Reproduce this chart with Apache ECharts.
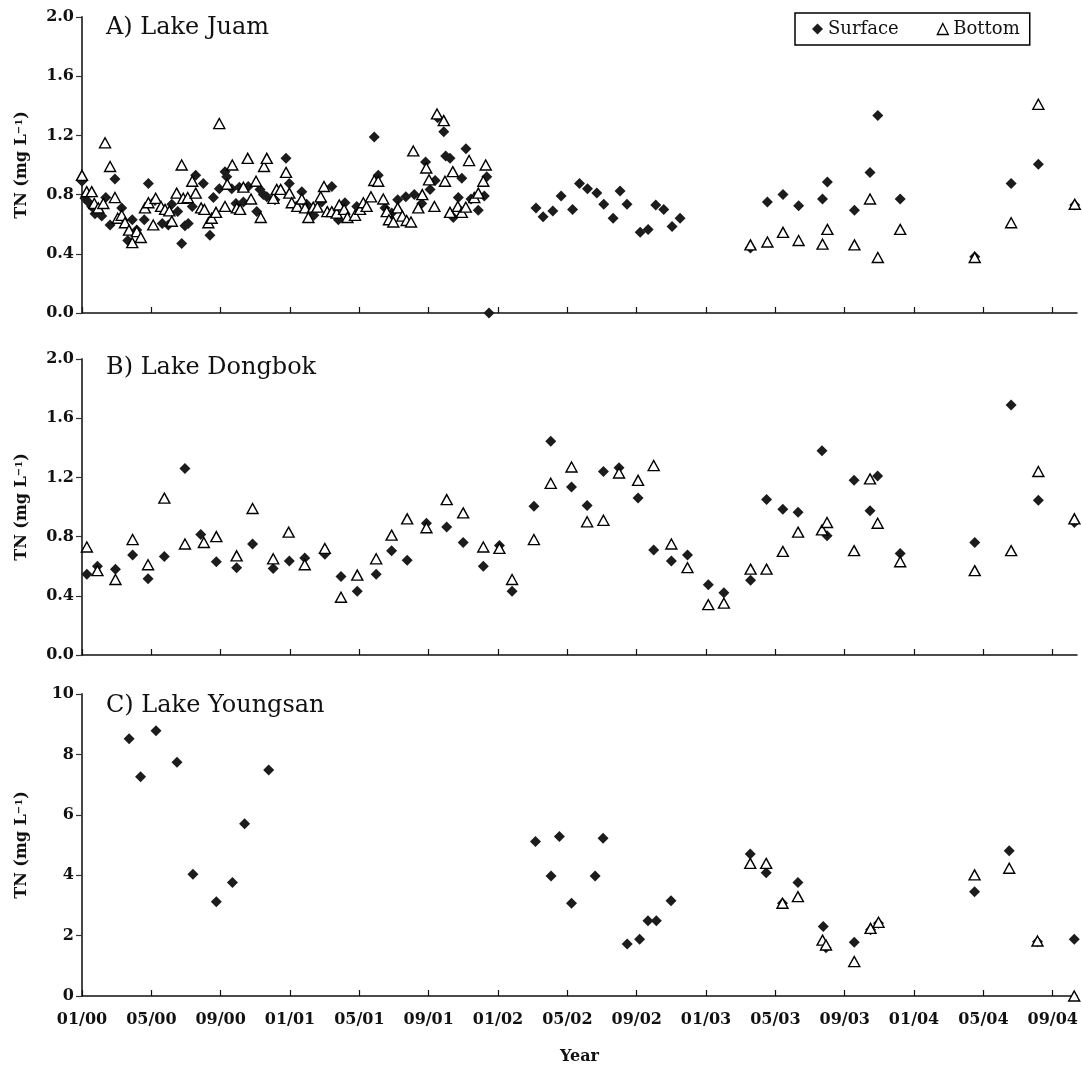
<!DOCTYPE html>
<html><head><meta charset="utf-8">
<script src="https://cdn.jsdelivr.net/npm/echarts@6/dist/echarts.min.js"></script>
<style>html,body{margin:0;padding:0;background:#fff}#c{width:1082px;height:1071px}</style>
</head><body><div id="c"></div>
<script>
// x values: months since 01/2000 (fractional)
const tickLabels = ['01/00','05/00','09/00','01/01','05/01','09/01','01/02','05/02','09/02','01/03','05/03','09/03','01/04','05/04','09/04'];
const panelTitles = ['A) Lake Juam','B) Lake Dongbok','C) Lake Youngsan'];
const seriesNames = ['Surface','Bottom'];

const juamSurface = [
[0.00,0.89],[0.17,0.775],[0.36,0.75],[0.56,0.72],[0.75,0.67],[1.14,0.655],[1.37,0.78],[1.62,0.595],[1.90,0.905],[2.29,0.71],[2.64,0.49],[2.90,0.63],[3.16,0.56],[3.59,0.63],[3.83,0.875],[4.21,0.76],[4.63,0.605],[4.98,0.595],[5.18,0.735],[5.52,0.685],[5.75,0.47],[5.94,0.59],[6.13,0.605],[6.36,0.72],[6.56,0.93],[7.00,0.875],[7.38,0.525],[7.58,0.78],[7.92,0.84],[8.25,0.955],[8.35,0.92],[8.64,0.84],[8.88,0.74],[9.08,0.85],[9.31,0.75],[9.59,0.855],[10.08,0.685],[10.27,0.835],[10.46,0.80],[10.66,0.785],[11.13,0.765],[11.77,1.045],[11.96,0.875],[12.35,0.72],[12.68,0.82],[12.96,0.735],[13.15,0.685],[13.38,0.66],[13.83,0.75],[14.41,0.855],[14.79,0.63],[15.17,0.745],[15.85,0.72],[16.86,1.19],[17.09,0.93],[17.48,0.71],[17.87,0.675],[18.21,0.765],[18.68,0.785],[19.17,0.80],[19.60,0.74],[19.82,1.02],[20.08,0.835],[20.37,0.895],[20.52,1.32],[20.87,1.225],[20.98,1.06],[21.23,1.045],[21.42,0.645],[21.71,0.78],[21.91,0.91],[22.15,1.11],[22.44,0.77],[22.86,0.695],[23.21,0.79],[23.35,0.92],[23.48,0.0],
[26.19,0.71],[26.60,0.65],[27.16,0.69],[27.64,0.79],[28.30,0.70],[28.70,0.875],[29.16,0.84],[29.70,0.81],[30.10,0.735],[30.64,0.64],[31.04,0.825],[31.44,0.735],[32.20,0.545],[32.66,0.565],[33.10,0.73],[33.56,0.70],[34.04,0.585],[34.50,0.64],
[38.56,0.44],[39.54,0.75],[40.44,0.80],[41.34,0.725],[42.72,0.77],[43.00,0.885],[44.56,0.695],[45.46,0.95],[45.91,1.335],[47.20,0.77],[51.50,0.38],[53.60,0.875],[55.17,1.005],[57.27,0.73]
];
const juamBottom = [
[0.00,0.93],[0.27,0.82],[0.56,0.82],[0.71,0.74],[0.94,0.71],[1.23,0.74],[1.33,1.15],[1.62,0.99],[1.90,0.78],[2.06,0.64],[2.29,0.66],[2.48,0.61],[2.71,0.56],[2.90,0.475],[3.16,0.55],[3.39,0.51],[3.63,0.71],[3.83,0.745],[4.11,0.595],[4.25,0.775],[4.56,0.72],[4.79,0.70],[5.04,0.69],[5.18,0.62],[5.46,0.81],[5.75,1.00],[5.84,0.775],[6.10,0.78],[6.36,0.89],[6.56,0.81],[6.87,0.71],[7.06,0.70],[7.29,0.61],[7.48,0.64],[7.73,0.68],[7.92,1.28],[8.25,0.72],[8.38,0.87],[8.67,1.00],[8.93,0.71],[9.12,0.70],[9.31,0.85],[9.56,1.045],[9.75,0.77],[10.04,0.89],[10.31,0.645],[10.50,0.99],[10.66,1.045],[11.04,0.775],[11.23,0.835],[11.46,0.835],[11.77,0.95],[11.96,0.81],[12.10,0.745],[12.42,0.72],[12.68,0.77],[12.87,0.71],[13.06,0.645],[13.34,0.715],[13.58,0.715],[13.77,0.785],[13.96,0.855],[14.15,0.685],[14.41,0.685],[14.69,0.675],[14.84,0.73],[15.12,0.70],[15.31,0.645],[15.75,0.66],[16.04,0.70],[16.23,0.745],[16.42,0.72],[16.67,0.785],[16.86,0.895],[17.09,0.89],[17.38,0.77],[17.58,0.685],[17.71,0.63],[17.96,0.615],[18.21,0.71],[18.48,0.655],[18.73,0.625],[18.98,0.615],[19.11,1.095],[19.40,0.71],[19.63,0.80],[19.86,0.98],[20.02,0.90],[20.33,0.72],[20.48,1.345],[20.87,1.30],[20.94,0.89],[21.23,0.68],[21.39,0.955],[21.68,0.72],[21.91,0.68],[22.14,0.715],[22.33,1.03],[22.63,0.78],[22.86,0.81],[23.15,0.89],[23.29,1.00],
[38.56,0.46],[39.54,0.48],[40.44,0.545],[41.34,0.49],[42.72,0.465],[43.00,0.565],[44.56,0.46],[45.46,0.77],[45.91,0.375],[47.20,0.565],[51.50,0.375],[53.60,0.61],[55.17,1.41],[57.27,0.735]
];

const dongbokSurface = [
[0.28,0.545],[0.89,0.60],[1.93,0.58],[2.92,0.675],[3.81,0.515],[4.75,0.665],[5.94,1.26],[6.85,0.815],[7.75,0.63],[8.92,0.59],[9.84,0.75],[11.03,0.585],[11.96,0.635],[12.85,0.655],[14.01,0.68],[14.94,0.53],[15.88,0.43],[16.97,0.545],[17.86,0.705],[18.76,0.64],[19.87,0.89],[21.04,0.865],[21.99,0.76],[23.15,0.60],[24.08,0.74],[24.81,0.43],[26.07,1.005],[27.04,1.445],[28.24,1.135],[29.14,1.01],[30.08,1.24],[30.98,1.265],[32.08,1.06],[32.98,0.71],[34.00,0.635],[34.93,0.675],[36.13,0.475],[37.03,0.42],[38.57,0.505],[39.49,1.05],[40.43,0.985],[41.31,0.965],[42.69,1.38],[42.98,0.805],[44.54,1.18],[45.46,0.975],[45.90,1.21],[47.20,0.685],[51.50,0.76],[53.60,1.69],[55.17,1.045],[57.25,0.895]
];
const dongbokBottom = [
[0.28,0.73],[0.89,0.57],[1.93,0.51],[2.92,0.78],[3.81,0.61],[4.75,1.06],[5.94,0.75],[7.03,0.76],[7.75,0.80],[8.92,0.67],[9.84,0.99],[11.03,0.65],[11.92,0.83],[12.85,0.61],[14.01,0.72],[14.94,0.39],[15.88,0.54],[16.97,0.65],[17.86,0.81],[18.76,0.92],[19.87,0.86],[21.04,1.05],[21.99,0.96],[23.15,0.73],[24.08,0.72],[24.81,0.51],[26.07,0.78],[27.04,1.16],[28.24,1.27],[29.14,0.90],[30.08,0.91],[30.98,1.23],[32.08,1.18],[32.98,1.28],[34.00,0.75],[34.93,0.59],[36.13,0.34],[37.03,0.35],[38.57,0.58],[39.49,0.58],[40.43,0.70],[41.31,0.83],[42.69,0.845],[42.98,0.895],[44.54,0.705],[45.46,1.19],[45.90,0.89],[47.20,0.63],[51.50,0.57],[53.60,0.705],[55.17,1.24],[57.25,0.92]
];

const youngsanSurface = [
[2.72,8.52],[3.38,7.26],[4.27,8.78],[5.48,7.74],[6.40,4.03],[7.75,3.12],[8.68,3.76],[9.38,5.70],[10.77,7.48],
[26.16,5.12],[27.06,3.97],[27.54,5.28],[28.24,3.07],[29.60,3.97],[30.06,5.22],[31.45,1.72],[32.17,1.88],[32.65,2.49],[33.13,2.49],[33.98,3.15],
[38.55,4.70],[39.47,4.08],[40.41,3.07],[41.30,3.76],[42.76,2.30],[42.92,1.60],[44.55,1.78],[45.49,2.19],[45.95,2.41],[51.49,3.45],[53.49,4.81],[55.12,1.80],[57.24,1.88]
];
const youngsanBottom = [
[38.55,4.39],[39.47,4.39],[40.41,3.07],[41.30,3.29],[42.72,1.85],[42.92,1.69],[44.55,1.14],[45.49,2.24],[45.95,2.44],[51.49,4.01],[53.49,4.23],[55.12,1.82],[57.24,0.0]
];

const panelData = [[juamSurface, juamBottom],[dongbokSurface, dongbokBottom],[youngsanSurface, youngsanBottom]];
const yMax = [2, 2, 10];
const yInterval = [0.4, 0.4, 2];

const FONT = 'DejaVu Serif';
const INK = '#111';
const tickMonths = tickLabels.map((_, i) => i * 4);
const grids = [
  {left: 82, right: 5, top: 17, height: 296},
  {left: 82, right: 5, top: 359, height: 296},
  {left: 82, right: 5, top: 694, height: 302}
];

const xAxes = grids.map((g, i) => ({
  type: 'value', gridIndex: i, min: 0, max: 57.4,
  axisLine: {show: true, lineStyle: {color: INK, width: 1.5}},
  axisTick: {show: true, inside: true, length: 6, customValues: tickMonths, lineStyle: {color: INK, width: 1.2}},
  axisLabel: {show: i === 2, customValues: tickMonths, formatter: v => tickLabels[Math.round(v / 4)] || '',
    fontFamily: FONT, fontWeight: 'bold', fontSize: 16, color: INK, margin: 16},
  splitLine: {show: false},
  name: i === 2 ? 'Year' : '', nameLocation: 'middle', nameGap: 53,
  nameTextStyle: {fontFamily: FONT, fontWeight: 'bold', fontSize: 16, color: INK}
}));

const yAxes = grids.map((g, i) => ({
  type: 'value', gridIndex: i, min: 0, max: yMax[i], interval: yInterval[i],
  axisLine: {show: true, lineStyle: {color: '#333', width: 1.8}},
  axisTick: {show: true, inside: false, length: 6, lineStyle: {color: '#333', width: 1.2}},
  axisLabel: {fontFamily: FONT, fontWeight: 'bold', fontSize: 16, color: INK, margin: 8,
    formatter: v => i < 2 ? v.toFixed(1) : String(v)},
  splitLine: {show: false},
  name: 'TN (mg L{s|−1})', nameLocation: 'middle', nameRotate: 90, nameGap: 52,
  nameTextStyle: {fontFamily: FONT, fontWeight: 'bold', fontSize: 16, color: INK,
    rich: {s: {fontFamily: FONT, fontWeight: 'bold', fontSize: 10, color: INK, verticalAlign: 'top', lineHeight: 14}}}
}));

const series = [];
panelData.forEach((pair, i) => {
  series.push({
    name: seriesNames[0], type: 'scatter', xAxisIndex: i, yAxisIndex: i, data: pair[0],
    symbol: 'diamond', symbolSize: 11, z: 2,
    itemStyle: {color: '#1c1c1c', opacity: 1}
  });
  series.push({
    name: seriesNames[1], type: 'scatter', xAxisIndex: i, yAxisIndex: i, data: pair[1],
    symbol: 'triangle', symbolSize: [11, 10], z: 3,
    itemStyle: {color: '#fff', borderColor: '#000', borderWidth: 1.4, opacity: 1}
  });
});

const titles = panelTitles.map((t, i) => ({
  text: t, left: 106, top: [16, 356, 694][i], padding: 0,
  textStyle: {fontFamily: FONT, fontWeight: 'normal', fontSize: 24, color: INK}
}));

const chart = echarts.init(document.getElementById('c'), null, {renderer: 'canvas'});
chart.setOption({
  backgroundColor: '#fff',
  animation: false,
  title: titles,
  grid: grids,
  xAxis: xAxes,
  yAxis: yAxes,
  legend: {
    data: [
      {name: 'Surface', icon: 'diamond', itemStyle: {color: '#1c1c1c'}},
      {name: 'Bottom', icon: 'triangle', itemStyle: {color: '#fff', borderColor: '#000', borderWidth: 1.3}}
    ],
    left: 795, top: 13, orient: 'horizontal',
    padding: [7, 10, 7, 17], itemGap: 38, itemWidth: 11, itemHeight: 11,
    borderColor: '#000', borderWidth: 1.5,
    textStyle: {fontFamily: FONT, fontSize: 18, color: INK, padding: [0, 0, 0, 0]}
  },
  series: series
});
</script></body></html>
